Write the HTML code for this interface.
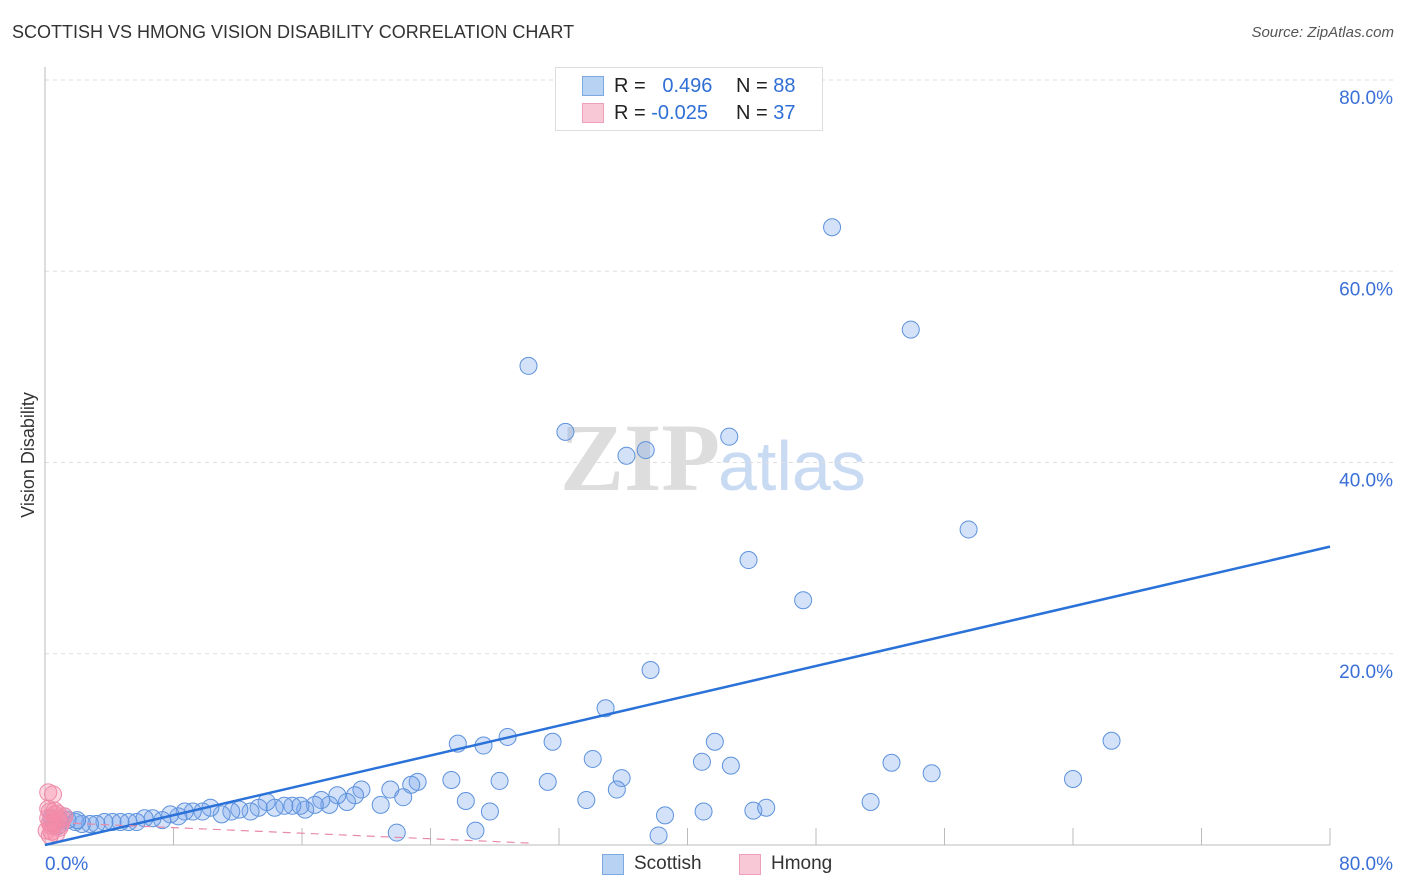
<!DOCTYPE html>
<html><head><meta charset="utf-8">
<style>
html,body{margin:0;padding:0;background:#fff;}
body{width:1406px;height:892px;position:relative;overflow:hidden;font-family:"Liberation Sans",sans-serif;}
.t{position:absolute;white-space:nowrap;}
</style></head>
<body>
<div class="t" style="left:12px;top:22px;font-size:18px;color:#333;">SCOTTISH VS HMONG VISION DISABILITY CORRELATION CHART</div>
<div class="t" style="right:12px;top:24px;font-size:15px;color:#555;font-style:italic;">Source: ZipAtlas.com</div>
<svg id="chart" width="1406" height="892" style="position:absolute;left:0;top:0;">
<text x="720" y="490" text-anchor="end" font-family="Liberation Serif,serif" font-size="96" fill="#ddd" font-weight="bold">ZIP</text>
<text x="718" y="490" font-family="Liberation Sans,sans-serif" font-size="70" fill="#c9daf3">atlas</text>
<text transform="translate(34,455) rotate(-90)" text-anchor="middle" font-size="18" fill="#333">Vision Disability</text>
<g id="grid"></g><g id="marks"></g>
</svg>
<div style="position:absolute;left:555px;top:67px;width:266px;height:62px;border:1px solid #ddd;background:#fff;font-size:20px;">
 <div style="position:absolute;left:26px;top:8px;width:20px;height:18px;background:#b8d2f4;border:1px solid #7ea8e0;"></div>
 <div class="t" style="left:58px;top:7px;color:#222;">R = &nbsp;&nbsp;<span style="color:#2f6fd6">0.496</span></div>
 <div class="t" style="left:180px;top:7px;color:#222;">N = <span style="color:#2f6fd6">88</span></div>
 <div style="position:absolute;left:26px;top:35px;width:20px;height:18px;background:#f9c8d6;border:1px solid #eda0b8;"></div>
 <div class="t" style="left:58px;top:34px;color:#222;">R = <span style="color:#2f6fd6">-0.025</span></div>
 <div class="t" style="left:180px;top:34px;color:#222;">N = <span style="color:#2f6fd6">37</span></div>
</div>
<div style="position:absolute;left:602px;top:852px;font-size:19px;color:#333;">
 <span style="position:absolute;left:0;top:2px;width:20px;height:19px;background:#b8d2f4;border:1px solid #7ea8e0;"></span>
 <span class="t" style="left:32px;top:1px;">Scottish</span>
 <span style="position:absolute;left:137px;top:2px;width:20px;height:19px;background:#f9c8d6;border:1px solid #eda0b8;"></span>
 <span class="t" style="left:169px;top:1px;">Hmong</span>
</div>
<script>
const yTicks=[20,40,60,80];
const yTickLabels=["20.0%","40.0%","60.0%","80.0%"];
const xTickLabels=["0.0%","80.0%"];
const scotX=[49.0,53.9,30.1,32.4,36.2,37.4,42.6,57.5,43.8,47.2,37.7,34.9,66.4,28.8,25.7,27.3,31.6,41.7,34.1,40.9,42.7,52.7,55.2,64.0,35.9,28.3,31.3,25.3,35.6,33.7,26.2,27.7,38.6,41.0,44.1,44.9,51.4,38.2,26.8,21.9,
23.2,22.8,21.5,22.3,20.9,19.7,19.3,18.8,18.2,17.7,17.2,16.8,16.2,15.9,15.4,14.9,14.3,13.8,13.3,12.8,12.1,11.6,11.0,10.3,9.8,9.2,8.7,8.3,7.8,7.3,6.7,6.2,5.7,5.2,4.7,4.2,3.7,3.2,2.8,2.3,1.9,1.4,0.9,0.6,0.4,0.8,1.2,2.0];
const scotY=[64.6,53.9,50.1,43.2,40.7,41.3,42.7,33.0,29.8,25.6,18.3,14.3,10.9,11.3,10.6,10.4,10.8,10.8,9.0,8.7,8.3,8.6,7.5,6.9,7.0,6.7,6.6,6.8,5.8,4.7,4.6,3.5,3.1,3.5,3.6,3.9,4.5,1.0,1.5,1.3,
6.6,6.3,5.8,5.0,4.2,5.8,5.2,4.5,5.2,4.2,4.7,4.2,3.7,4.1,4.1,4.1,3.9,4.5,3.9,3.5,3.7,3.5,3.2,3.9,3.5,3.5,3.5,3.0,3.2,2.6,2.8,2.8,2.4,2.4,2.4,2.4,2.4,2.2,2.2,2.2,2.4,2.6,2.6,2.1,2.8,2.0,3.0,2.6];
const hmX=[0.2,0.5,0.3,0.6,0.2,0.8,1.0,0.4,0.1,0.7,0.3,1.2,0.5,0.9,0.2,0.6,0.4,1.1,0.3,0.8];
const hmY=[5.5,5.3,3.5,3.2,2.8,2.6,2.2,2.0,1.5,1.2,1.0,3.0,2.4,1.8,3.8,3.6,1.4,2.7,2.3,3.3];
const scotTrend=[0,80,0,31.2];
const hmTrend=[0,30.2,2.4,0.2];
const NS="http://www.w3.org/2000/svg";
const X=v=>45+v*(1285/80), Y=v=>845-v*(765/80);
function mk(t,a,p){const e=document.createElementNS(NS,t);for(const k in a)e.setAttribute(k,a[k]);p.appendChild(e);return e;}
const g=document.getElementById('grid'),m=document.getElementById('marks');
yTicks.forEach((v,i)=>{
 const l=mk('line',{x1:45,x2:1393,y1:Y(v),y2:Y(v),stroke:'#ddd','stroke-dasharray':'4,4'},g);
 
 
 const t=mk('text',{x:1393,y:Y(v)+24,'text-anchor':'end','font-size':19,fill:'#3a6fd8','font-family':'Liberation Sans,sans-serif'},g);
 t.textContent=yTickLabels[i];
 
 
});
for(let i=1;i<=10;i++){
 const l=mk('line',{x1:X(i*8),x2:X(i*8),y1:828,y2:845,stroke:'#bbb'},g);
 
 
}
const ax=mk('line',{x1:45,x2:45,y1:67,y2:845,stroke:'#bbb'},g);


const bx=mk('line',{x1:45,x2:1330,y1:845,y2:845,stroke:'#bbb'},g);


[[0,45,'start'],[80,1393,'end']].forEach((d,i)=>{
 const t=mk('text',{x:d[1],y:870,'text-anchor':d[2],'font-size':19,fill:'#3a6fd8','font-family':'Liberation Sans,sans-serif'},g);
 t.textContent=xTickLabels[i];
 
 
});
scotX.forEach((x,i)=>{
 const c=mk('circle',{cx:X(x),cy:Y(scotY[i]),r:8.5,fill:'rgba(120,165,235,0.32)',stroke:'#5d92dc','stroke-width':1},m);
 
 
});
hmX.forEach((x,i)=>{
 const c=mk('circle',{cx:X(x),cy:Y(hmY[i]),r:8.5,fill:'rgba(245,140,170,0.35)',stroke:'#ee8aa8','stroke-width':1},m);
 
 
});
const tl=mk('line',{x1:X(scotTrend[0]),x2:X(scotTrend[1]),y1:Y(scotTrend[2]),y2:Y(scotTrend[3]),stroke:'#2a72d8','stroke-width':2.5},m);


const hl=mk('line',{x1:X(hmTrend[0]),x2:X(hmTrend[1]),y1:Y(hmTrend[2]),y2:Y(hmTrend[3]),stroke:'#e88aa8','stroke-width':1.2,'stroke-dasharray':'8,6'},m);


</script>
</body></html>
